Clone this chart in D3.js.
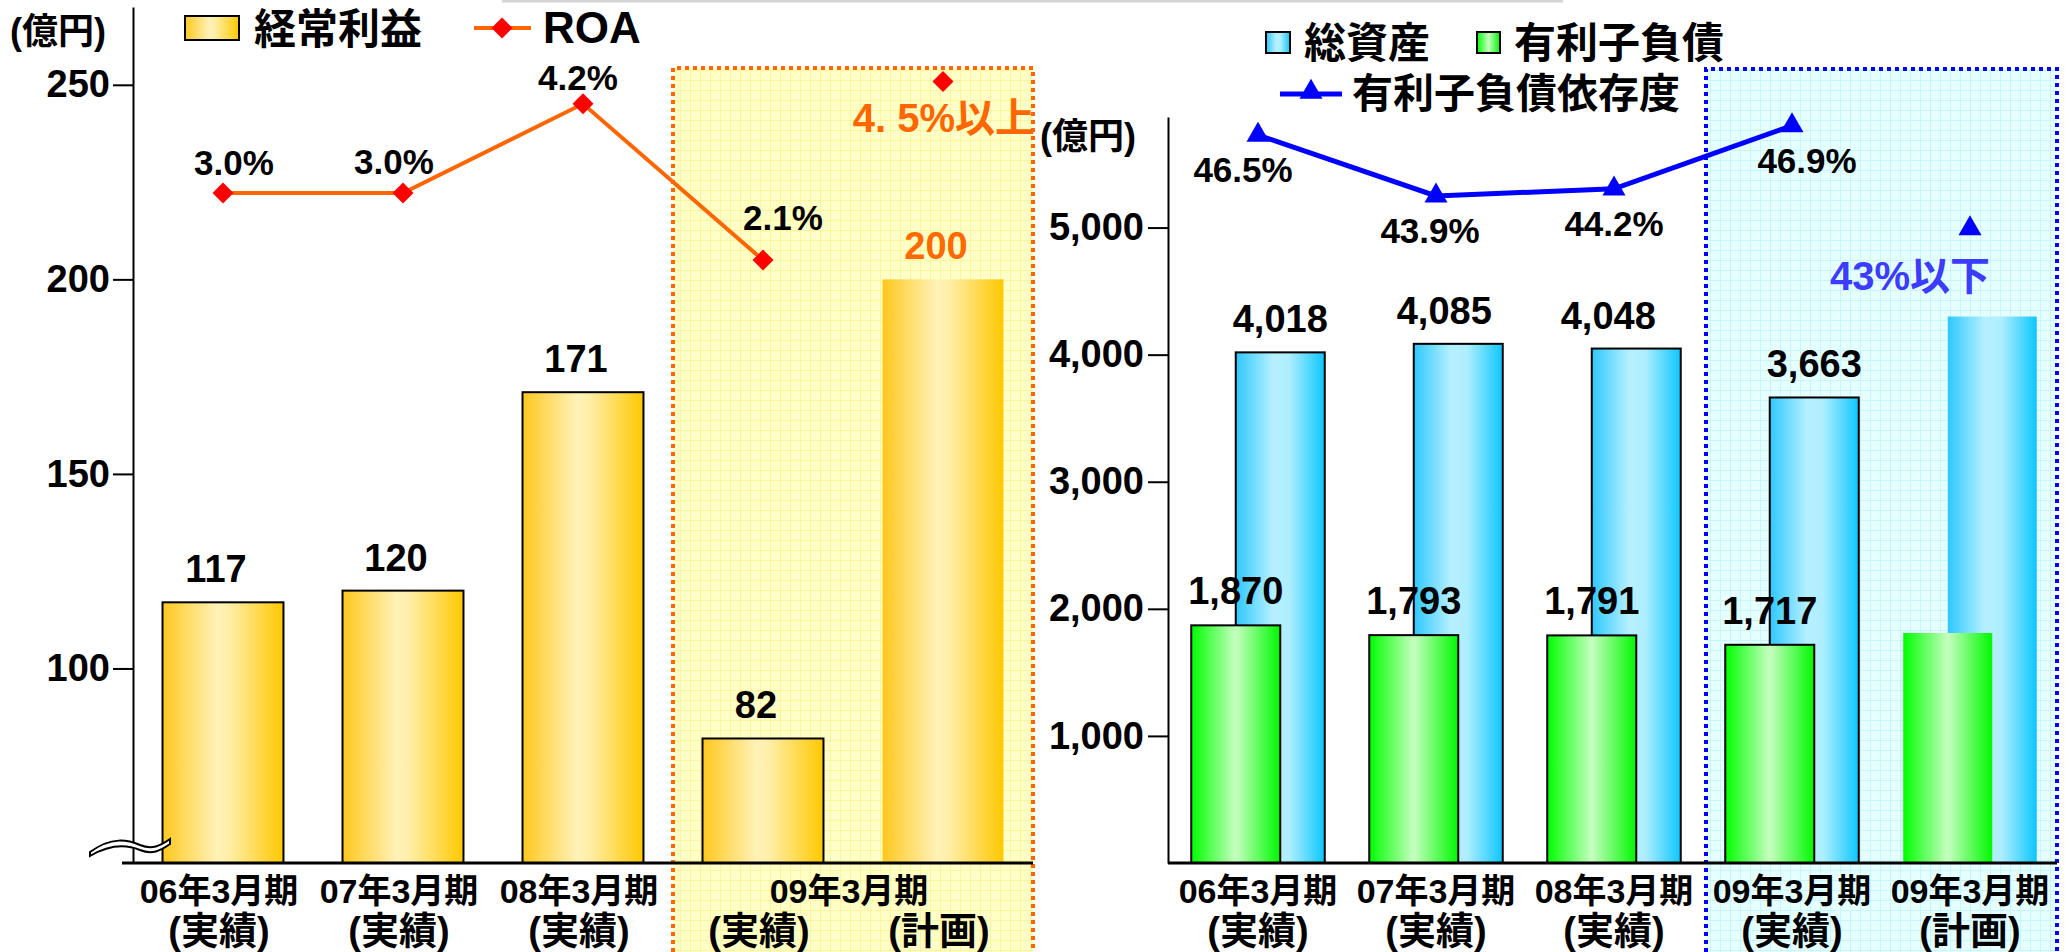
<!DOCTYPE html>
<html><head><meta charset="utf-8">
<script src="https://cdn.jsdelivr.net/npm/d3@7"></script>
<style>
body{margin:0;background:#fff}
svg{display:block;background:#fff}
text{font-family:"Liberation Sans","Noto Sans CJK JP",sans-serif;font-weight:bold}
</style>
</head><body>
<svg id="c" width="2069" height="952"></svg>
<script>
// ---------------- data ----------------
const periods = ["06年3月期","07年3月期","08年3月期","09年3月期","09年3月期"];
const kinds = ["(実績)","(実績)","(実績)","(実績)","(計画)"];
const isPlan = [false,false,false,false,true];
const ordinaryProfit = [117,120,171,82,200];
const roa = [3.0,3.0,4.2,2.1,4.5];
const roaLabels = ["3.0%","3.0%","4.2%","2.1%"];
const roaPlanLabel = "4. 5%以上";
const totalAssets = [4018,4085,4048,3663,4300];
const interestDebt = [1870,1793,1791,1717,1810];
const debtRatio = [46.5,43.9,44.2,46.9,42.5];
const debtRatioLabels = ["46.5%","43.9%","44.2%","46.9%"];
const debtRatioPlanLabel = "43%以下";
const leftTicks = [100,150,200,250];
const rightTicks = [1000,2000,3000,4000,5000];
const unitLabel = "(億円)";
const legendLeft = ["経常利益","ROA"];
const legendRight = ["総資産","有利子負債","有利子負債依存度"];

// ---------------- layout ----------------
const keys = periods.map((p,i)=>p+kinds[i]);
const base = 863;
const svg = d3.select("#c");
const defs = svg.append("defs");
function hGrad(id, stops){
  const g = defs.append("linearGradient").attr("id",id).attr("x1","0").attr("x2","1").attr("y1","0").attr("y2","0");
  stops.forEach(([o,c])=>g.append("stop").attr("offset",o).attr("stop-color",c));
}
hGrad("gold", [[0,"#ffc81e"],[0.45,"#fff2b8"],[0.55,"#ffeea8"],[1,"#ffc800"]]);
hGrad("blue", [[0,"#2ec8ff"],[0.42,"#b6f0ff"],[0.6,"#aeeeff"],[1,"#0cc6ff"]]);
hGrad("green", [[0,"#00ff00"],[0.5,"#c6ffc0"],[1,"#00f800"]]);
function gridPat(id, bg, line){
  const p = defs.append("pattern").attr("id",id).attr("width",10).attr("height",10).attr("patternUnits","userSpaceOnUse");
  p.append("rect").attr("width",10).attr("height",10).attr("fill",bg);
  p.append("path").attr("d","M0,0.5H10M0.5,0V10").attr("stroke",line).attr("stroke-width",1);
}
gridPat("ypat","#ffffc8","#fff39c");
gridPat("cpat","#e6ffff","#c6f6ff");

// top grey rule
svg.append("line").attr("x1",502).attr("x2",1563).attr("y1",1).attr("y2",1).attr("stroke","#d4d4d4").attr("stroke-width",3);

// ======== LEFT CHART ========
const xL = d3.scaleBand().domain(keys).range([133,1033]).paddingInner(0.328).paddingOuter(0.164);
const yL = d3.scaleLinear().domain([50,270]).range([base,7]);
const yRoa = d3.scaleLinear().domain([-6,5.5]).range([base,7]);
const bwL = xL.bandwidth();

// highlight box (plan period)
const boxL0 = (xL(keys[2])+bwL + xL(keys[3]))/2, boxL1 = xL.range()[1];
svg.append("rect").attr("x",boxL0).attr("y",68).attr("width",boxL1-boxL0).attr("height",900).attr("fill","url(#ypat)");
svg.append("path").attr("d",`M${boxL0},960V68H${boxL1}V960`).attr("fill","none")
  .attr("stroke","#ff6600").attr("stroke-width",4).attr("stroke-dasharray","4 4");

// axis
const axL = svg.append("g").attr("transform","translate(133,0)")
  .call(d3.axisLeft(yL).tickValues(leftTicks).tickSize(20).tickSizeOuter(0).tickPadding(3));
axL.attr("font-family",null).attr("font-size",null);
axL.select(".domain").attr("stroke","#000").attr("stroke-width",2);
axL.selectAll(".tick line").attr("stroke","#000").attr("stroke-width",2);
axL.selectAll(".tick text").attr("font-size",38).attr("fill","#000");

// bars
svg.selectAll(".barL").data(ordinaryProfit).join("rect").attr("class","barL")
  .attr("x",(d,i)=>xL(keys[i])).attr("width",bwL)
  .attr("y",d=>yL(d)).attr("height",d=>base-yL(d))
  .attr("fill","url(#gold)")
  .attr("stroke",(d,i)=>isPlan[i]?"none":"#000").attr("stroke-width",2);

// baseline
svg.append("line").attr("x1",122).attr("x2",boxL1).attr("y1",base).attr("y2",base).attr("stroke","#000").attr("stroke-width",3);

// axis break symbol
svg.append("path").attr("d","M90,852 C112,836 128,840 140,845 C152,850 160,846 170,839 L170,844 C160,851 152,855 140,850 C128,845 112,843 90,856 Z")
  .attr("fill","#fff").attr("stroke","#000").attr("stroke-width",2);

// bar value labels
svg.selectAll(".lblL").data(ordinaryProfit).join("text").attr("class","lblL")
  .attr("x",(d,i)=>xL(keys[i])+bwL/2-7).attr("y",d=>yL(d)-20)
  .attr("text-anchor","middle").attr("font-size",38)
  .attr("fill",(d,i)=>isPlan[i]?"#ff6a00":"#000").text(d=>d);

// ROA line
const roaActual = roa.filter((d,i)=>!isPlan[i]);
svg.append("path").datum(roaActual)
  .attr("d",d3.line().x((d,i)=>xL(keys[i])+bwL/2).y(d=>yRoa(d)))
  .attr("fill","none").attr("stroke","#ff6600").attr("stroke-width",4);
const diamond = d3.symbol().type(d3.symbolSquare).size(220);
svg.selectAll(".roaPt").data(roa).join("path").attr("class","roaPt")
  .attr("d",diamond)
  .attr("transform",(d,i)=>`translate(${xL(keys[i])+bwL/2},${yRoa(d)}) rotate(45)`)
  .attr("fill","#ff0000");
const roaNudge = [[11,-18],[-9,-19],[-5,-14],[20,-30]];
svg.selectAll(".roaLbl").data(roaLabels).join("text").attr("class","roaLbl")
  .attr("x",(d,i)=>xL(keys[i])+bwL/2+roaNudge[i][0]).attr("y",(d,i)=>yRoa(roa[i])+roaNudge[i][1])
  .attr("text-anchor","middle").attr("font-size",35).attr("fill","#000").text(d=>d);
svg.append("text").attr("x",boxL1+2).attr("y",yRoa(roa[4])+51).attr("text-anchor","end")
  .attr("font-size",40).attr("fill","#ff6600").text(roaPlanLabel);

// x labels left (merge consecutive equal periods)
const groupsL = [];
periods.forEach((p,i)=>{
  const last = groupsL[groupsL.length-1];
  if(last && last.p===p) last.idx.push(i); else groupsL.push({p, idx:[i]});
});
svg.selectAll(".xl1L").data(groupsL).join("text").attr("class","xl1L")
  .attr("x",g=>d3.mean(g.idx,i=>xL(keys[i])+bwL/2)-4).attr("y",903)
  .attr("text-anchor","middle").attr("font-size",34).attr("fill","#000").text(g=>g.p);
svg.selectAll(".xl2L").data(kinds).join("text").attr("class","xl2L")
  .attr("x",(d,i)=>xL(keys[i])+bwL/2-4).attr("y",944)
  .attr("text-anchor","middle").attr("font-size",38).attr("fill","#000").text(d=>d);

// unit + legend left
svg.append("text").attr("x",10).attr("y",44).attr("font-size",36).attr("fill","#000").text(unitLabel);
svg.append("rect").attr("x",185).attr("y",16).attr("width",54).attr("height",24).attr("fill","url(#gold)").attr("stroke","#000").attr("stroke-width",2);
svg.append("text").attr("x",254).attr("y",44).attr("font-size",42).attr("fill","#000").text(legendLeft[0]);
svg.append("line").attr("x1",474).attr("x2",531).attr("y1",28).attr("y2",28).attr("stroke","#ff6600").attr("stroke-width",4);
svg.append("path").attr("d",diamond).attr("transform","translate(502,28) rotate(45)").attr("fill","#ff0000");
svg.append("text").attr("x",543).attr("y",43).attr("font-size",44).attr("fill","#000").text(legendLeft[1]);

// ======== RIGHT CHART ========
const xR = d3.scaleBand().domain(keys).range([1169,2059]).paddingInner(0.25).paddingOuter(0.125);
const yR = d3.scaleLinear().domain([0,5870]).range([base,117]);
const yRatio = d3.scaleLinear().domain([15.4,47.27]).range([base,117]);
const bwR = xR.bandwidth();
const subW = bwR*2/3;
const cR = i => xR(keys[i])+bwR/2;

const boxR0 = (xR(keys[2])+bwR + xR(keys[3]))/2 + 3, boxR1 = 2057;
svg.append("rect").attr("x",boxR0).attr("y",69).attr("width",boxR1-boxR0).attr("height",900).attr("fill","url(#cpat)");
svg.append("path").attr("d",`M${boxR0},960V69H${boxR1}V960`).attr("fill","none")
  .attr("stroke","#0000ff").attr("stroke-width",4).attr("stroke-dasharray","4 4");

const axR = svg.append("g").attr("transform","translate(1168,0)")
  .call(d3.axisLeft(yR).tickValues(rightTicks).tickFormat(d3.format(",")).tickSize(20).tickSizeOuter(0).tickPadding(4));
axR.attr("font-family",null).attr("font-size",null);
axR.select(".domain").attr("stroke","#000").attr("stroke-width",2);
axR.selectAll(".tick line").attr("stroke","#000").attr("stroke-width",2);
axR.selectAll(".tick text").attr("font-size",38).attr("fill","#000");

// total assets (behind)
svg.selectAll(".barA").data(totalAssets).join("rect").attr("class","barA")
  .attr("x",(d,i)=>xR(keys[i])+bwR/3).attr("width",subW)
  .attr("y",d=>yR(d)).attr("height",d=>base-yR(d))
  .attr("fill","url(#blue)")
  .attr("stroke",(d,i)=>isPlan[i]?"none":"#000").attr("stroke-width",2);
// interest-bearing debt (front)
svg.selectAll(".barD").data(interestDebt).join("rect").attr("class","barD")
  .attr("x",(d,i)=>xR(keys[i])).attr("width",subW)
  .attr("y",d=>yR(d)).attr("height",d=>base-yR(d))
  .attr("fill","url(#green)")
  .attr("stroke",(d,i)=>isPlan[i]?"none":"#000").attr("stroke-width",2);

svg.append("line").attr("x1",1168).attr("x2",boxR1).attr("y1",base).attr("y2",base).attr("stroke","#000").attr("stroke-width",3);

const fmt = d3.format(",");
const assetNudge = [0,-14,-28,0];
svg.selectAll(".lblA").data(totalAssets.filter((d,i)=>!isPlan[i])).join("text").attr("class","lblA")
  .attr("x",(d,i)=>xR(keys[i])+bwR/3+subW/2+assetNudge[i]).attr("y",d=>yR(d)-20)
  .attr("text-anchor","middle").attr("font-size",38).attr("fill","#000").text(d=>fmt(d));
svg.selectAll(".lblD").data(interestDebt.filter((d,i)=>!isPlan[i])).join("text").attr("class","lblD")
  .attr("x",(d,i)=>xR(keys[i])+subW/2).attr("y",d=>yR(d)-21)
  .attr("text-anchor","middle").attr("font-size",38).attr("fill","#000").text(d=>fmt(d));

// debt ratio line
const ratioActual = debtRatio.filter((d,i)=>!isPlan[i]);
svg.append("path").datum(ratioActual)
  .attr("d",d3.line().x((d,i)=>cR(i)).y(d=>yRatio(d)))
  .attr("fill","none").attr("stroke","#0000ff").attr("stroke-width",5);
const tri = d3.symbol().type(d3.symbolTriangle).size(230);
svg.selectAll(".ratioPt").data(debtRatio).join("path").attr("class","ratioPt")
  .attr("d",tri).attr("transform",(d,i)=>`translate(${cR(i)},${yRatio(d)})`).attr("fill","#0000ff");
const ratioNudge = [-15,-6,0,15];
svg.selectAll(".ratioLbl").data(debtRatioLabels).join("text").attr("class","ratioLbl")
  .attr("x",(d,i)=>cR(i)+ratioNudge[i]).attr("y",(d,i)=>yRatio(debtRatio[i])+47)
  .attr("text-anchor","middle").attr("font-size",35).attr("fill","#000").text(d=>d);
svg.append("text").attr("x",cR(4)-60).attr("y",yRatio(debtRatio[4])+61).attr("text-anchor","middle")
  .attr("font-size",40).attr("fill","#3c3cff").text(debtRatioPlanLabel);

// x labels right
svg.selectAll(".xl1R").data(periods).join("text").attr("class","xl1R")
  .attr("x",(d,i)=>cR(i)).attr("y",903)
  .attr("text-anchor","middle").attr("font-size",34).attr("fill","#000").text(d=>d);
svg.selectAll(".xl2R").data(kinds).join("text").attr("class","xl2R")
  .attr("x",(d,i)=>cR(i)).attr("y",944)
  .attr("text-anchor","middle").attr("font-size",38).attr("fill","#000").text(d=>d);

// unit + legend right
svg.append("text").attr("x",1040).attr("y",149).attr("font-size",36).attr("fill","#000").text(unitLabel);
svg.append("rect").attr("x",1266).attr("y",32).attr("width",24).attr("height",21).attr("fill","url(#blue)").attr("stroke","#000").attr("stroke-width",2);
svg.append("text").attr("x",1304).attr("y",58).attr("font-size",42).attr("fill","#000").text(legendRight[0]);
svg.append("rect").attr("x",1477).attr("y",32).attr("width",23).attr("height",21).attr("fill","url(#green)").attr("stroke","#000").attr("stroke-width",2);
svg.append("text").attr("x",1514).attr("y",58).attr("font-size",42).attr("fill","#000").text(legendRight[1]);
svg.append("line").attr("x1",1280).attr("x2",1342).attr("y1",94).attr("y2",94).attr("stroke","#0000ff").attr("stroke-width",5);
svg.append("path").attr("d",tri).attr("transform","translate(1311,92)").attr("fill","#0000ff");
svg.append("text").attr("x",1352).attr("y",108).attr("font-size",41).attr("fill","#000").text(legendRight[2]);
</script>
</body></html>
